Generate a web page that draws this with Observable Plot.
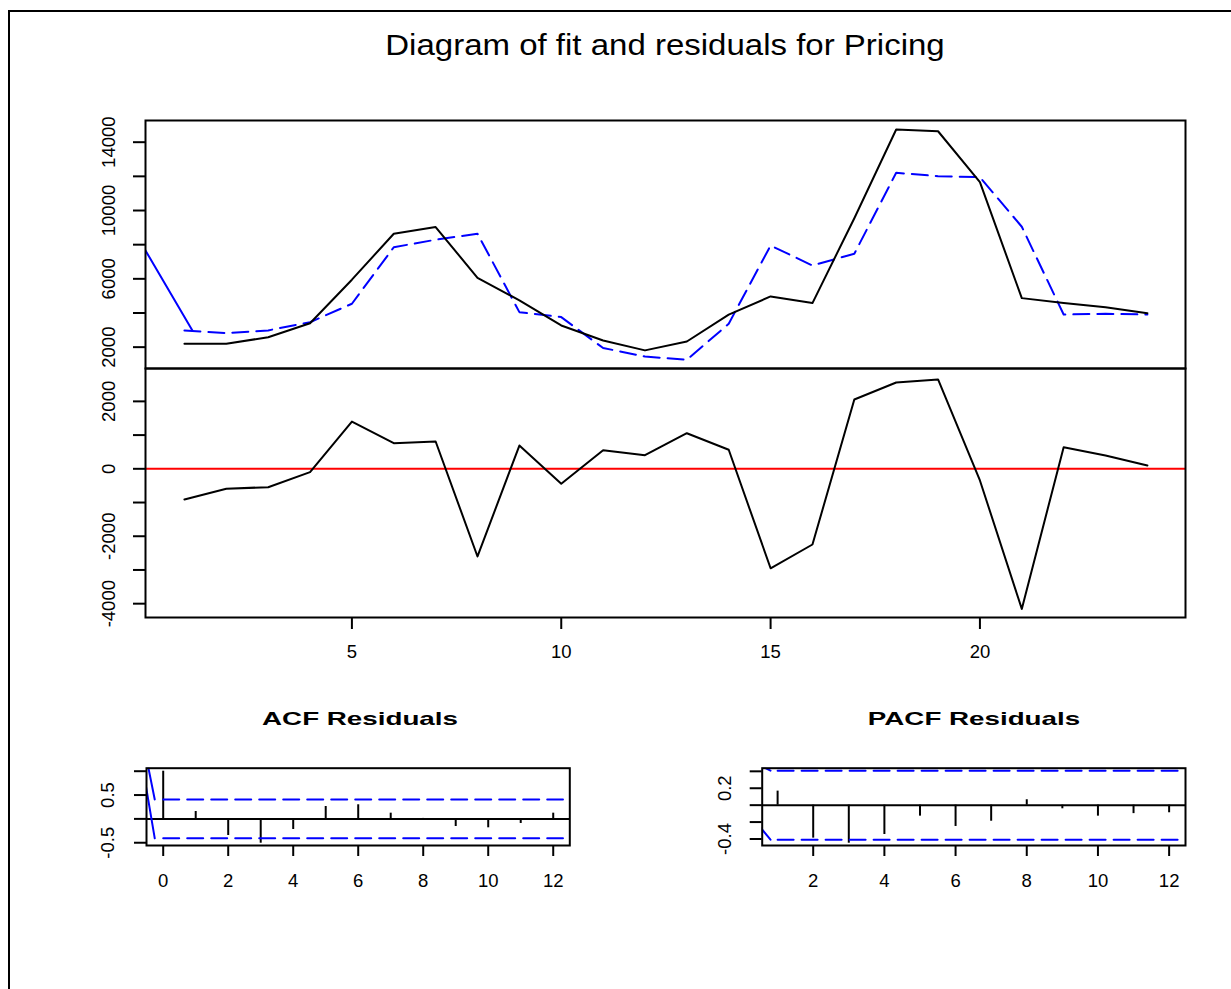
<!DOCTYPE html>
<html>
<head>
<meta charset="utf-8">
<script src="https://cdn.jsdelivr.net/npm/d3@7"></script>
<script src="https://cdn.jsdelivr.net/npm/@observablehq/plot@0.6"></script>
<style>
  body { margin: 0; background: #fff; }
  #page { position: relative; width: 1231px; height: 989px; overflow: hidden; background: #fff;
          font-family: "Liberation Sans", Arial, Helvetica, sans-serif; color: #000; }
  .outer { position: absolute; left: 8px; top: 10px; width: 1300px; height: 1100px;
           border-left: 2px solid #000; border-top: 2px solid #000; box-sizing: border-box; }
  .panel { position: absolute; }
  .title { position: absolute; white-space: nowrap; text-align: center; color: #000; }
</style>
</head>
<body>
<div id="page"><div class="outer"></div></div>
<script>
// ---------------- data ----------------
const mainTitle = "Diagram of fit and residuals for Pricing";
const acfTitle = "ACF Residuals";
const pacfTitle = "PACF Residuals";

const time = [1, 2, 3, 4, 5, 6, 7, 8, 9, 10, 11, 12, 13, 14, 15, 16, 17, 18, 19, 20, 21, 22, 23, 24];
const actual = [2200, 2200, 2580, 3400, 5950, 8640, 9030, 6060, 4740, 3270, 2390, 1810,
                2330, 3900, 4970, 4580, 9550, 14740, 14640, 11660, 4870, 4580, 4340, 3990];
const fitted = [2980, 2820, 2980, 3460, 4540, 7850, 8290, 8640, 4050, 3760, 1950, 1450,
                1260, 3370, 7950, 6780, 7470, 12210, 12010, 11950, 9050, 3910, 3950, 3910];
// solid blue lead-in segment of the fitted series (time, value)
const fittedLeadTime = [0, 1.19];
const fittedLeadValue = [7950, 2980];
const residuals = [-910, -590, -545, -100, 1400, 760, 810, -2600, 690, -445, 550, 405,
                   1055, 565, -2950, -2245, 2055, 2560, 2650, -345, -4155, 640, 395, 100];

const fitTicks = [2000, 4000, 6000, 8000, 10000, 12000, 14000];
const fitTickLabels = [2000, 6000, 10000, 14000];
const residTicks = [-4000, -3000, -2000, -1000, 0, 1000, 2000];
const residTickLabels = [-4000, -2000, 0, 2000];
const timeTicks = [5, 10, 15, 20];

const acfLag = [0, 1, 2, 3, 4, 5, 6, 7, 8, 9, 10, 11, 12];
const acfValue = [1.0, 0.155, -0.348, -0.51, -0.222, 0.26, 0.296, 0.12, 0.01, -0.16, -0.187, -0.096, 0.12];
const pacfLag = [1, 2, 3, 4, 5, 6, 7, 8, 9, 10, 11, 12];
const pacfValue = [0.166, -0.39, -0.45, -0.347, -0.13, -0.252, -0.19, 0.064, -0.043, -0.13, -0.10, -0.09];
const confLimit = 0.408;

// band lines: lag range and lead-in solid segments (lag, value)
const acfBandLag = [0, 12.3];
const acfLeadUpperLag = [-0.5, -0.26], acfLeadUpperValue = [1.22, 0.408];
const acfLeadLowerLag = [-0.53, -0.26], acfLeadLowerValue = [0.68, -0.408];
const pacfBandLag = [1, 12.3];
const pacfLeadUpperLag = [0.5, 0.8], pacfLeadUpperValue = [0.47, 0.408];
const pacfLeadLowerLag = [0.5, 0.8], pacfLeadLowerValue = [-0.255, -0.408];

const acfTicksY = [-0.5, 0, 0.5, 1];
const acfTickLabelsY = [-0.5, 0.5];
const acfTicksX = [0, 2, 4, 6, 8, 10, 12];
const pacfTicksY = [-0.4, -0.2, 0, 0.2, 0.4];
const pacfTickLabelsY = [-0.4, 0.2];
const pacfTicksX = [2, 4, 6, 8, 10, 12];

// ---------------- helpers ----------------
const zip = (xs, ys) => xs.map((x, i) => ({x, y: ys[i]}));
const FONT = "'Liberation Sans', Arial, Helvetica, sans-serif";
const BLUE = "#0000ff", RED = "#ff0000", BLACK = "#000000";
const DASH = "16,8";
const LW = 2;
const svgStyle = {background: "transparent", fontFamily: FONT, fontSize: "18.5px", color: BLACK, overflow: "visible"};

function yLabels(vals, dx) {
  return Plot.text(vals, {y: d => d, text: d => String(d), frameAnchor: "left", dx,
    rotate: -90, textAnchor: "middle", lineAnchor: "middle", fontSize: 18.5, fill: BLACK});
}
function xLabels(vals, dy) {
  return Plot.text(vals, {x: d => d, text: d => String(d), frameAnchor: "bottom", dy,
    textAnchor: "middle", lineAnchor: "middle", fontSize: 18.5, fill: BLACK});
}
function place(svg, left, top) {
  const wrap = document.createElement("div");
  wrap.className = "panel";
  wrap.style.left = left + "px";
  wrap.style.top = top + "px";
  wrap.appendChild(svg);
  document.getElementById("page").appendChild(wrap);
}
function addTitle(text, cx, baseline, size, weight, stretch) {
  const d = document.createElement("div");
  d.className = "title";
  d.textContent = text;
  const w = 800;
  d.style.left = (cx - w / 2) + "px";
  d.style.width = w + "px";
  d.style.fontSize = size + "px";
  d.style.lineHeight = size + "px";
  d.style.fontWeight = weight;
  d.style.top = (baseline - 0.8465 * size) + "px";
  d.style.transform = `scaleX(${stretch})`;
  d.style.transformOrigin = "50% 50%";
  document.getElementById("page").appendChild(d);
}

const actualData = zip(time, actual);
const fittedData = zip(time, fitted);
const leadData = zip(fittedLeadTime, fittedLeadValue);
const residData = zip(time, residuals);
const timeDomain = [0.07, 24.91];

// ---------------- fit panel ----------------
const fitPlot = Plot.plot({
  width: 1231, height: 270,
  marginLeft: 145, marginRight: 46, marginTop: 20, marginBottom: 2,
  style: svgStyle,
  x: {domain: timeDomain, axis: null},
  y: {domain: [750, 15270]},
  marks: [
    Plot.line(leadData, {x: "x", y: "y", stroke: BLUE, strokeWidth: LW, clip: true}),
    Plot.line(fittedData, {x: "x", y: "y", stroke: BLUE, strokeWidth: LW, strokeDasharray: DASH}),
    Plot.line(actualData, {x: "x", y: "y", stroke: BLACK, strokeWidth: LW}),
    Plot.axisY(fitTicks, {tickSize: 12, fill: "none", stroke: BLACK, strokeWidth: LW, label: null}),
    yLabels(fitTickLabels, -36),
    Plot.frame({stroke: BLACK, strokeWidth: LW})
  ]
});
place(fitPlot, 0, 100);

// ---------------- residual panel ----------------
const residPlot = Plot.plot({
  width: 1231, height: 300,
  marginLeft: 145, marginRight: 46, marginTop: 2, marginBottom: 49,
  style: svgStyle,
  x: {domain: timeDomain},
  y: {domain: [-4410, 2975]},
  marks: [
    Plot.ruleY([0], {stroke: RED, strokeWidth: LW}),
    Plot.line(residData, {x: "x", y: "y", stroke: BLACK, strokeWidth: LW}),
    Plot.axisY(residTicks, {tickSize: 12, fill: "none", stroke: BLACK, strokeWidth: LW, label: null}),
    Plot.axisX(timeTicks, {tickSize: 12, fill: "none", stroke: BLACK, strokeWidth: LW, label: null}),
    yLabels(residTickLabels, -36),
    xLabels(timeTicks, 34.5),
    Plot.frame({stroke: BLACK, strokeWidth: LW})
  ]
});
place(residPlot, 0, 366);

// ---------------- ACF panel ----------------
const acfData = zip(acfLag, acfValue);
const acfPlot = Plot.plot({
  width: 600, height: 160,
  marginLeft: 146, marginRight: 30.7, marginTop: 27.7, marginBottom: 55,
  style: svgStyle,
  x: {domain: [-0.514, 12.51]},
  y: {domain: [-0.558, 1.063]},
  marks: [
    Plot.ruleY([0], {stroke: BLACK, strokeWidth: LW}),
    Plot.ruleX(acfData, {x: "x", y1: 0, y2: "y", stroke: BLACK, strokeWidth: LW}),
    Plot.line(zip(acfBandLag, acfBandLag.map(() => confLimit)), {x: "x", y: "y", stroke: BLUE, strokeWidth: LW, strokeDasharray: DASH}),
    Plot.line(zip(acfBandLag, acfBandLag.map(() => -confLimit)), {x: "x", y: "y", stroke: BLUE, strokeWidth: LW, strokeDasharray: DASH}),
    Plot.line(zip(acfLeadUpperLag, acfLeadUpperValue), {x: "x", y: "y", stroke: BLUE, strokeWidth: LW, clip: true}),
    Plot.line(zip(acfLeadLowerLag, acfLeadLowerValue), {x: "x", y: "y", stroke: BLUE, strokeWidth: LW, clip: true}),
    Plot.axisY(acfTicksY, {tickSize: 12, fill: "none", stroke: BLACK, strokeWidth: LW, label: null}),
    Plot.axisX(acfTicksX, {tickSize: 11, fill: "none", stroke: BLACK, strokeWidth: LW, label: null}),
    yLabels(acfTickLabelsY, -38),
    xLabels(acfTicksX, 36),
    Plot.frame({stroke: BLACK, strokeWidth: LW})
  ]
});
place(acfPlot, 0, 740);

// ---------------- PACF panel ----------------
const pacfData = zip(pacfLag, pacfValue);
const pacfPlot = Plot.plot({
  width: 611, height: 160,
  marginLeft: 141.7, marginRight: 46, marginTop: 27.7, marginBottom: 55,
  style: svgStyle,
  x: {domain: [0.567, 12.46]},
  y: {domain: [-0.477, 0.437]},
  marks: [
    Plot.ruleY([0], {stroke: BLACK, strokeWidth: LW}),
    Plot.ruleX(pacfData, {x: "x", y1: 0, y2: "y", stroke: BLACK, strokeWidth: LW}),
    Plot.line(zip(pacfBandLag, pacfBandLag.map(() => confLimit)), {x: "x", y: "y", stroke: BLUE, strokeWidth: LW, strokeDasharray: DASH}),
    Plot.line(zip(pacfBandLag, pacfBandLag.map(() => -confLimit)), {x: "x", y: "y", stroke: BLUE, strokeWidth: LW, strokeDasharray: DASH}),
    Plot.line(zip(pacfLeadUpperLag, pacfLeadUpperValue), {x: "x", y: "y", stroke: BLUE, strokeWidth: LW, clip: true}),
    Plot.line(zip(pacfLeadLowerLag, pacfLeadLowerValue), {x: "x", y: "y", stroke: BLUE, strokeWidth: LW, clip: true}),
    Plot.axisY(pacfTicksY, {tickSize: 12, fill: "none", stroke: BLACK, strokeWidth: LW, label: null}),
    Plot.axisX(pacfTicksX, {tickSize: 11, fill: "none", stroke: BLACK, strokeWidth: LW, label: null}),
    yLabels(pacfTickLabelsY, -37),
    xLabels(pacfTicksX, 36),
    Plot.frame({stroke: BLACK, strokeWidth: LW})
  ]
});
place(pacfPlot, 620, 740);

// ---------------- titles ----------------
addTitle(mainTitle, 665, 55, 30, "normal", 1.1);
addTitle(acfTitle, 360, 726, 18.5, "bold", 1.5);
addTitle(pacfTitle, 974, 726, 18.5, "bold", 1.5);
</script>
</body>
</html>
